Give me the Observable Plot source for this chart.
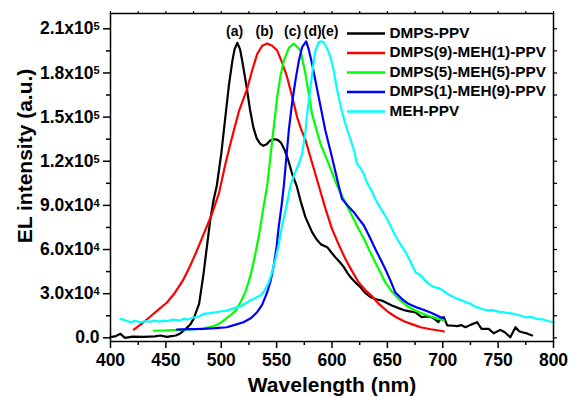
<!DOCTYPE html>
<html><head><meta charset="utf-8">
<script src="https://cdn.jsdelivr.net/npm/d3@7"></script>
<script src="https://cdn.jsdelivr.net/npm/@observablehq/plot@0.6"></script>
<style>
body{margin:0;background:#fff;}
#chart svg{font-family:"Liberation Sans",Arial,sans-serif;font-weight:bold;}
</style>
</head><body><div id="chart"></div>
<script>
const seriesNames = ["DMPS-PPV","DMPS(9)-MEH(1)-PPV","DMPS(5)-MEH(5)-PPV","DMPS(1)-MEH(9)-PPV","MEH-PPV"];
const seriesColors = ["#000000","#ff0000","#00ff00","#0000ff","#00ffff"];

const blackWl = [400,405,409,413,420,430,440,445,451,455,459,463,468,472,475,480,484,487,490,493,496,500,504,507,510,512,514.5,517,519,523,526,529,532,535,538,541,544,547.5,551,554,557,560,564,568,572,576,582,586,590,595.7,600,603,607,610.7,614,618,622,625.7,630,634.8,640,645,650,654,660,666,670,675,681,685,690,693,696,698,701,704,710,713,717,720.5,725,731,735,741.5,746,752,756,761,765.7,769,771.7,776,780.7];
const blackVal = [500,1200,2700,0,800,600,1000,1600,600,1200,1600,3000,6100,9000,12900,23100,43500,61600,79700,93300,103500,125000,152000,172000,188000,196000,200500,196000,188000,170000,155000,143000,135500,132000,130500,131500,134000,135000,134500,132500,128000,122000,111500,103500,92000,82000,71800,67000,63500,61600,57500,54800,51500,48000,44000,40100,37000,34400,30500,27600,26200,25300,23500,22000,20200,18600,18000,17400,14000,14600,14000,12500,10600,13200,14000,8400,8200,7900,8600,7200,8800,10600,6100,6100,3100,5400,3800,400,7200,4500,3800,3000,1600];

const redWl = [421,428,436,443,451,458,465,471,477,483,488,492,498,504,510,516,523.4,528,532.5,537,541.5,546,550.5,555,559.5,564,568.5,572,576,582,588,594,600,606,612,618,624,630,636,643,651,658,665,672,680,689,698,701];
const redVal = [5600,9500,14500,19000,24000,30500,38500,47500,57500,68400,77500,85000,98500,119000,137000,154000,169200,182000,193000,198500,200000,198500,195200,187000,177100,164000,150000,142000,134500,119000,103500,88000,74000,63500,53700,45500,37800,32500,28300,22500,17400,14000,11300,9300,7200,5800,4800,4300];

const greenWl = [439,450,463,475,484,490,494.8,500,508,513,517.4,522,526.4,530,534,538.4,541.5,546,550.5,553.5,556.5,561,565.5,571.6,576,582,589.6,597,604.6,612,618,623,628.8,634,639,644,648,654,660,667,675,685,690,696.5,701];
const greenVal = [4800,5000,5500,5800,6500,7300,8400,10500,15200,18500,24200,31500,42300,54000,69500,90000,103500,134000,163500,178000,188400,197000,200000,195200,179400,152200,131800,118200,103500,92000,83100,75500,67300,59000,51400,44000,37800,31500,26500,22000,18600,15500,14200,12900,11800];

const blueWl = [460,470,484,495,505,513,520,527,532.4,537,541.5,544.5,547.4,550,552,554.5,556.5,561,564,567,570,573,576.7,579,582,588,594,600,606,609,614,619.7,624,628.8,634,639,644,648,653,657,663,669,677,684.4,691,698,701];
const blueVal = [5600,5900,6100,6600,7200,9000,10600,13500,17400,22500,31000,38500,49100,62000,76300,90000,103500,140900,160000,174900,188000,197500,201400,196000,186200,163500,140900,122700,103500,94500,90000,85400,81000,76300,68500,60500,53000,46900,38500,31000,26500,23100,20500,18600,16500,14000,13600];

const cyanWl = [409,413,418,422,427,432,436,439,444,448,451,456,460,463,466,470,475,480,484,490,495,499,505,509,514,518,522,526,530,535.4,539,543,546,549,552,555,558.5,562.5,566,570,573,576,578,580.6,583,585,588,590,592.6,595,596.5,598.6,601.6,604,606,609,612,615,618,620,622.6,625,628.7,631,633,636,639,643,648,652,657,661,666.4,670,675.4,680,684,687.4,692,698,704,710,716,720,725,730,735,740,745,750,755,760,765,770,775,780,785,790,795,800];
const cyanVal = [12900,12000,10600,11500,10600,11300,10900,11800,11000,11700,11300,12400,12000,11800,12900,12500,13800,14500,16300,16800,17400,17900,18500,19500,20800,21500,23500,25300,26800,28700,32000,37800,45000,53700,64000,76300,88000,103500,111000,118200,125000,140000,155000,170300,185000,195200,200900,201500,200900,197500,195000,190700,181700,171000,163500,154000,145400,138500,131800,127000,118200,116000,111500,106500,103500,99500,94500,89000,83100,77500,69500,64500,58200,53000,44600,42500,39000,36700,34500,33300,30000,27600,25800,24500,23100,21000,19800,18600,18800,17800,17400,16800,16200,15200,13800,14200,12900,12600,11400,10600];

const xTicks = [400,450,500,550,600,650,700,750,800];
const xMinorTicks = [425,475,525,575,625,675,725,775];
const yTicks = [0,30000,60000,90000,120000,150000,180000,210000];
const yMinorTicks = [15000,45000,75000,105000,135000,165000,195000];
const yTickMantissa = ["0.0","3.0x10","6.0x10","9.0x10","1.2x10","1.5x10","1.8x10","2.1x10"];
const yTickExponent = ["","4","4","4","5","5","5","5"];
const peakLabels = ["(a)","(b)","(c)","(d)","(e)"];
const peakLabelX = [512,539,564.5,582.6,598];
const peakLabelY = 208300;
const xTitle = "Wavelength (nm)";
const yTitle = "EL intensity (a.u.)";

const seriesWl = [blackWl, redWl, greenWl, blueWl, cyanWl];
const seriesVal = [blackVal, redVal, greenVal, blueVal, cyanVal];
const rows = [];
seriesNames.forEach((name, i) => seriesWl[i].forEach((w, j) => rows.push({wl: w, val: seriesVal[i][j], name})));

// layout helpers (pixel -> data) for legend placement
const px2x = p => 400 + (p - 110) * 400 / 443;
const px2y = p => (337.3 - p) * 210000 / 309;

const FONT = "Liberation Sans, Arial, sans-serif";
const idx = yTicks.map((d, i) => i);
const blank = () => "";

const chart = Plot.plot({
  width: 569, height: 397,
  marginLeft: 110, marginRight: 16, marginTop: 13, marginBottom: 56,
  style: {fontFamily: FONT, fontWeight: "bold", background: "white", color: "black"},
  x: {domain: [400, 800], label: null},
  y: {domain: [-2500, 220400], label: null},
  color: {domain: seriesNames, range: seriesColors},
  marks: [
    Plot.axisX({ticks: xTicks, tickSize: 7, tickPadding: 5, fontSize: 17.5, strokeWidth: 1.5, tickFormat: d => String(d), label: null}),
    Plot.axisX({ticks: xMinorTicks, tickSize: 4, strokeWidth: 1.5, tickFormat: blank, label: null}),
    Plot.axisX({anchor: "top", ticks: xTicks.concat(xMinorTicks), tickSize: 3, strokeWidth: 1.2, tickFormat: blank, label: null}),
    Plot.axisY({ticks: yTicks, tickSize: 7, strokeWidth: 1.5, tickFormat: blank, label: null}),
    Plot.axisY({ticks: yMinorTicks, tickSize: 4, strokeWidth: 1.5, tickFormat: blank, label: null}),
    Plot.axisY({anchor: "right", ticks: yTicks.concat(yMinorTicks), tickSize: 3, strokeWidth: 1.2, tickFormat: blank, label: null}),
    // y tick labels with superscript exponent
    Plot.text(idx.filter(i => yTickExponent[i] !== ""), {y: i => yTicks[i], text: i => yTickMantissa[i], frameAnchor: "left", dx: -17, textAnchor: "end", lineAnchor: "middle", fontSize: 17.5}),
    Plot.text(idx.filter(i => yTickExponent[i] !== ""), {y: i => yTicks[i], text: i => yTickExponent[i], frameAnchor: "left", dx: -17, dy: -2, textAnchor: "start", lineAnchor: "middle", fontSize: 11}),
    Plot.text(idx.filter(i => yTickExponent[i] === ""), {y: i => yTicks[i], text: i => yTickMantissa[i], frameAnchor: "left", dx: -11, textAnchor: "end", lineAnchor: "middle", fontSize: 17.5}),
    // axis titles
    Plot.text([xTitle], {text: d => d, frameAnchor: "bottom", dy: 44, textAnchor: "middle", lineAnchor: "middle", fontSize: 21}),
    Plot.text([yTitle], {text: d => d, frameAnchor: "left", dx: -85, dy: -21.5, rotate: -90, textAnchor: "middle", lineAnchor: "middle", fontSize: 21}),
    // curves
    Plot.line(rows, {x: "wl", y: "val", z: "name", stroke: "name", strokeWidth: 2.2}),
    // peak labels
    Plot.text(peakLabels, {x: (d, i) => peakLabelX[i], y: () => peakLabelY, text: d => d, fontSize: 14, lineAnchor: "middle"}),
    // legend
    Plot.ruleY(seriesNames, {y: (d, i) => px2y(33 + i * 19.5), x1: px2x(347), x2: px2x(385), stroke: d => d, strokeWidth: 2.6}),
    Plot.text(seriesNames, {y: (d, i) => px2y(32.5 + i * 19.5), x: () => px2x(389), text: d => d, textAnchor: "start", lineAnchor: "middle", fontSize: 15.3}),
    Plot.frame({strokeWidth: 1.5})
  ]
});
document.getElementById("chart").appendChild(chart);
</script>
</body></html>
